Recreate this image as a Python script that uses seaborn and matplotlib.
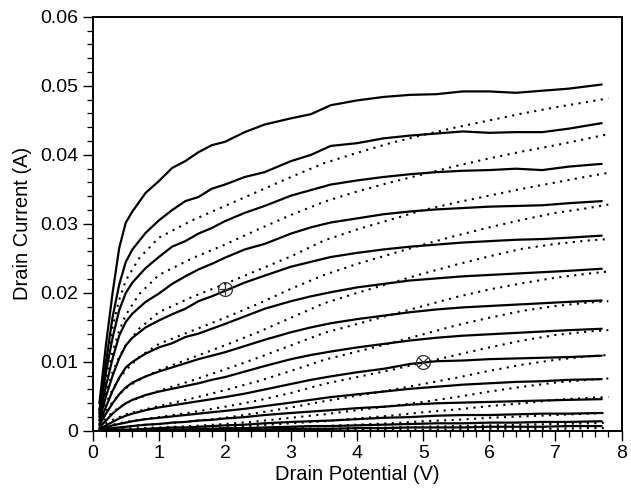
import numpy as np
import pandas as pd
import seaborn as sns
import matplotlib.pyplot as plt
from matplotlib.ticker import MultipleLocator

# drain potential grid for the measured (solid) curves
v_meas = [0.1, 0.2, 0.3, 0.4, 0.5, 0.6, 0.8, 1.0, 1.2, 1.4, 1.6, 1.8, 2.0, 2.3,
          2.6, 3.0, 3.3, 3.6, 4.0, 4.4, 4.8, 5.2, 5.6, 6.0, 6.4, 6.8, 7.2, 7.7]

# measured drain current (A), top gate step first
s01 = [0.0040, 0.0125, 0.0200, 0.0265, 0.0302, 0.0318, 0.0345, 0.0362, 0.0381, 0.0391, 0.0404, 0.0414, 0.0419, 0.0433,
       0.0444, 0.0453, 0.0459, 0.0472, 0.0479, 0.0484, 0.0487, 0.0488, 0.0492, 0.0492, 0.0490, 0.0493, 0.0496, 0.0502]
s02 = [0.0030, 0.0100, 0.0165, 0.0212, 0.0245, 0.0263, 0.0287, 0.0305, 0.0320, 0.0333, 0.0339, 0.0351, 0.0357, 0.0368,
       0.0375, 0.0391, 0.0400, 0.0413, 0.0417, 0.0424, 0.0428, 0.0431, 0.0434, 0.0432, 0.0433, 0.0433, 0.0438, 0.0446]
s03 = [0.0025, 0.0085, 0.0135, 0.0175, 0.0200, 0.0215, 0.0236, 0.0252, 0.0267, 0.0275, 0.0286, 0.0294, 0.0304, 0.0316,
       0.0326, 0.0341, 0.0349, 0.0357, 0.0363, 0.0368, 0.0372, 0.0375, 0.0377, 0.0378, 0.0380, 0.0378, 0.0383, 0.0387]
s04 = [0.0020, 0.0065, 0.0105, 0.0138, 0.0158, 0.0170, 0.0187, 0.0199, 0.0213, 0.0224, 0.0234, 0.0242, 0.0251, 0.0263,
       0.0271, 0.0286, 0.0295, 0.0302, 0.0308, 0.0314, 0.0318, 0.0321, 0.0323, 0.0325, 0.0326, 0.0327, 0.0330, 0.0333]
s05 = [0.0015, 0.0050, 0.0080, 0.0105, 0.0124, 0.0135, 0.0150, 0.0160, 0.0169, 0.0177, 0.0188, 0.0195, 0.0203, 0.0215,
       0.0225, 0.0238, 0.0245, 0.0252, 0.0258, 0.0263, 0.0267, 0.0270, 0.0273, 0.0275, 0.0277, 0.0278, 0.0280, 0.0283]
s06 = [0.0010, 0.0035, 0.0058, 0.0077, 0.0092, 0.0100, 0.0112, 0.0121, 0.0127, 0.0136, 0.0141, 0.0148, 0.0155, 0.0166,
       0.0177, 0.0188, 0.0195, 0.0201, 0.0208, 0.0213, 0.0218, 0.0221, 0.0224, 0.0226, 0.0228, 0.0230, 0.0232, 0.0235]
s07 = [0.0008, 0.0025, 0.0040, 0.0053, 0.0063, 0.0070, 0.0079, 0.0086, 0.0092, 0.0098, 0.0104, 0.0109, 0.0114, 0.0123,
       0.0132, 0.0143, 0.0150, 0.0156, 0.0162, 0.0167, 0.0172, 0.0176, 0.0179, 0.0181, 0.0183, 0.0185, 0.0187, 0.0189]
s08 = [0.0005, 0.0015, 0.0025, 0.0033, 0.0040, 0.0045, 0.0052, 0.0057, 0.0061, 0.0065, 0.0069, 0.0074, 0.0078, 0.0086,
       0.0094, 0.0104, 0.0110, 0.0115, 0.0121, 0.0126, 0.0131, 0.0135, 0.0138, 0.0140, 0.0142, 0.0144, 0.0146, 0.0148]
s09 = [0.0003, 0.0008, 0.0013, 0.0018, 0.0022, 0.0025, 0.0030, 0.0034, 0.0037, 0.0040, 0.0043, 0.0046, 0.0049, 0.0054,
       0.0060, 0.0068, 0.0074, 0.0079, 0.0085, 0.0090, 0.0097, 0.0101, 0.0102, 0.0104, 0.0105, 0.0106, 0.0107, 0.0109]
s10 = [0.0002, 0.0005, 0.0008, 0.0010, 0.0012, 0.0014, 0.0017, 0.0019, 0.0021, 0.0023, 0.0025, 0.0027, 0.0029, 0.0032,
       0.0036, 0.0041, 0.0045, 0.0049, 0.0053, 0.0057, 0.0061, 0.0064, 0.0067, 0.0069, 0.0071, 0.0072, 0.0074, 0.0075]
s11 = [0.0001, 0.0003, 0.0004, 0.0005, 0.0006, 0.0007, 0.0009, 0.0010, 0.0012, 0.0013, 0.0015, 0.0016, 0.0018, 0.0020,
       0.0023, 0.0026, 0.0028, 0.0030, 0.0033, 0.0035, 0.0038, 0.0040, 0.0041, 0.0042, 0.0043, 0.0044, 0.0045, 0.0046]
s12 = [0.0000, 0.0001, 0.0001, 0.0002, 0.0002, 0.0002, 0.0003, 0.0004, 0.0005, 0.0005, 0.0006, 0.0007, 0.0008, 0.0009,
       0.0011, 0.0013, 0.0014, 0.0015, 0.0017, 0.0019, 0.0020, 0.0022, 0.0023, 0.0023, 0.0024, 0.0025, 0.0025, 0.0026]
s13 = [0.0000, 0.0000, 0.0000, 0.0001, 0.0001, 0.0001, 0.0001, 0.0002, 0.0002, 0.0002, 0.0003, 0.0003, 0.0004, 0.0004,
       0.0005, 0.0006, 0.0007, 0.0007, 0.0008, 0.0009, 0.0010, 0.0011, 0.0011, 0.0012, 0.0012, 0.0013, 0.0013, 0.0014]
s14 = [0.0000, 0.0000, 0.0000, 0.0000, 0.0000, 0.0000, 0.0000, 0.0001, 0.0001, 0.0001, 0.0001, 0.0001, 0.0002, 0.0002,
       0.0002, 0.0003, 0.0003, 0.0003, 0.0004, 0.0004, 0.0005, 0.0005, 0.0005, 0.0006, 0.0006, 0.0006, 0.0007, 0.0007]

# drain potential grid for the model (dotted) curves
v_model = [0.1, 0.2, 0.3, 0.4, 0.5, 0.7, 1.0, 1.5, 2.0, 2.5, 3.0, 3.5, 4.0, 4.5, 5.0, 5.5, 6.0, 6.5, 7.0, 7.5, 7.8]

d01 = [0.0030, 0.0095, 0.0150, 0.0190, 0.0218, 0.0250, 0.0280, 0.0305, 0.0326, 0.0347, 0.0368,
       0.0388, 0.0403, 0.0417, 0.0429, 0.0440, 0.0450, 0.0460, 0.0469, 0.0477, 0.0482]
d02 = [0.0025, 0.0075, 0.0115, 0.0145, 0.0168, 0.0198, 0.0226, 0.0250, 0.0270, 0.0292, 0.0313,
       0.0332, 0.0347, 0.0360, 0.0372, 0.0384, 0.0395, 0.0405, 0.0414, 0.0424, 0.0430]
d03 = [0.0020, 0.0055, 0.0085, 0.0107, 0.0124, 0.0148, 0.0172, 0.0194, 0.0213, 0.0233, 0.0253,
       0.0276, 0.0292, 0.0306, 0.0320, 0.0331, 0.0341, 0.0351, 0.0360, 0.0369, 0.0374]
d04 = [0.0015, 0.0040, 0.0060, 0.0076, 0.0088, 0.0107, 0.0126, 0.0145, 0.0164, 0.0184, 0.0206,
       0.0226, 0.0242, 0.0256, 0.0270, 0.0283, 0.0295, 0.0306, 0.0316, 0.0323, 0.0328]
d05 = [0.0010, 0.0028, 0.0042, 0.0053, 0.0062, 0.0074, 0.0088, 0.0106, 0.0124, 0.0143, 0.0164,
       0.0185, 0.0200, 0.0214, 0.0228, 0.0241, 0.0253, 0.0264, 0.0271, 0.0276, 0.0278]
d06 = [0.0007, 0.0018, 0.0027, 0.0034, 0.0040, 0.0048, 0.0058, 0.0073, 0.0089, 0.0106, 0.0124,
       0.0142, 0.0155, 0.0168, 0.0181, 0.0194, 0.0205, 0.0214, 0.0222, 0.0228, 0.0231]
d07 = [0.0004, 0.0011, 0.0016, 0.0020, 0.0024, 0.0029, 0.0036, 0.0047, 0.0059, 0.0072, 0.0087,
       0.0103, 0.0115, 0.0127, 0.0140, 0.0153, 0.0164, 0.0174, 0.0181, 0.0186, 0.0188]
d08 = [0.0002, 0.0006, 0.0009, 0.0011, 0.0013, 0.0016, 0.0020, 0.0027, 0.0035, 0.0044, 0.0055,
       0.0068, 0.0078, 0.0088, 0.0099, 0.0110, 0.0121, 0.0131, 0.0139, 0.0144, 0.0146]
d09 = [0.0001, 0.0003, 0.0004, 0.0005, 0.0006, 0.0008, 0.0010, 0.0014, 0.0019, 0.0026, 0.0034,
       0.0043, 0.0051, 0.0059, 0.0068, 0.0077, 0.0087, 0.0096, 0.0103, 0.0108, 0.0110]
d10 = [0.0000, 0.0001, 0.0002, 0.0002, 0.0003, 0.0004, 0.0005, 0.0007, 0.0010, 0.0014, 0.0019,
       0.0024, 0.0030, 0.0036, 0.0042, 0.0049, 0.0057, 0.0064, 0.0070, 0.0074, 0.0076]
d11 = [0.0000, 0.0000, 0.0001, 0.0001, 0.0001, 0.0002, 0.0002, 0.0004, 0.0005, 0.0008, 0.0011,
       0.0014, 0.0018, 0.0022, 0.0027, 0.0031, 0.0036, 0.0040, 0.0045, 0.0048, 0.0049]
d12 = [0.0000, 0.0000, 0.0000, 0.0000, 0.0001, 0.0001, 0.0001, 0.0002, 0.0003, 0.0004, 0.0005,
       0.0007, 0.0009, 0.0011, 0.0014, 0.0016, 0.0019, 0.0021, 0.0023, 0.0025, 0.0026]
d13 = [0.0000, 0.0000, 0.0000, 0.0000, 0.0000, 0.0000, 0.0001, 0.0001, 0.0001, 0.0002, 0.0002,
       0.0003, 0.0004, 0.0005, 0.0006, 0.0007, 0.0008, 0.0009, 0.0010, 0.0011, 0.0012]
d14 = [0.0000, 0.0000, 0.0000, 0.0000, 0.0000, 0.0000, 0.0000, 0.0000, 0.0000, 0.0001, 0.0001,
       0.0001, 0.0001, 0.0002, 0.0002, 0.0002, 0.0003, 0.0003, 0.0003, 0.0004, 0.0004]

# marked points (V, A)
mark_plus = (2.0, 0.0205)
mark_cross = (5.0, 0.0100)

x_ticks = [0, 1, 2, 3, 4, 5, 6, 7, 8]
y_ticks = [0, 0.01, 0.02, 0.03, 0.04, 0.05, 0.06]
y_labels = ["0", "0.01", "0.02", "0.03", "0.04", "0.05", "0.06"]

solid = [s01, s02, s03, s04, s05, s06, s07, s08, s09, s10, s11, s12, s13, s14]
dotted = [d01, d02, d03, d04, d05, d06, d07, d08, d09, d10, d11, d12, d13, d14]

meas_df = pd.concat([pd.DataFrame({"V": v_meas, "I": c, "curve": i}) for i, c in enumerate(solid)])
model_df = pd.concat([pd.DataFrame({"V": v_model, "I": c, "curve": i}) for i, c in enumerate(dotted)])

sns.set_style("ticks")
plt.rcParams["font.family"] = ["Liberation Sans", "DejaVu Sans"]
plt.rcParams["text.color"] = "black"
plt.rcParams["axes.labelcolor"] = "black"
plt.rcParams["xtick.color"] = "black"
plt.rcParams["ytick.color"] = "black"

fig = plt.figure(figsize=(6.31, 4.97), dpi=100)
ax = fig.add_axes([0.147, 0.133, 0.838, 0.833])

sns.lineplot(data=model_df, x="V", y="I", units="curve", estimator=None, sort=False,
             color="black", lw=1.5, linestyle=(0, (1, 2.6)), ax=ax, legend=False)
sns.lineplot(data=meas_df, x="V", y="I", units="curve", estimator=None, sort=False,
             color="black", lw=1.6, ax=ax, legend=False)

ax.plot(*mark_plus, marker="o", ms=10, mfc="none", mec="#333333", mew=0.9)
ax.plot(*mark_plus, marker="+", ms=9, mec="#333333", mew=0.9)
ax.plot(*mark_cross, marker="o", ms=10, mfc="none", mec="#333333", mew=0.9)
ax.plot(*mark_cross, marker="x", ms=6.5, mec="#333333", mew=0.9)

ax.set_xlim(0, 8)
ax.set_ylim(0, 0.06)
ax.set_xticks(x_ticks)
ax.set_yticks(y_ticks)
ax.set_yticklabels(y_labels)
ax.xaxis.set_minor_locator(MultipleLocator(0.2))
ax.yaxis.set_minor_locator(MultipleLocator(0.002))
ax.tick_params(which="major", direction="out", length=7.5, width=1.0, labelsize=14,
               colors="black", labelcolor="black", pad=3)
ax.tick_params(which="minor", direction="out", length=4.5, width=0.9, colors="black")
for sp in ax.spines.values():
    sp.set_linewidth(1.4)
    sp.set_color("black")

ax.set_xlabel("Drain Potential (V)", fontsize=14.5, labelpad=2, color="black")
ax.set_ylabel("Drain Current (A)", fontsize=14.5, labelpad=6, color="black")

fig.savefig("out.png", dpi=100)
